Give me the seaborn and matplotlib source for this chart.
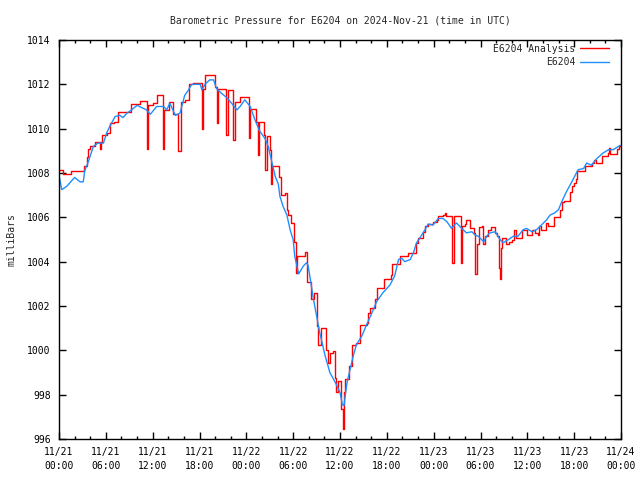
import pandas as pd
import matplotlib
matplotlib.use('Agg')
import matplotlib.pyplot as plt
import matplotlib.dates as mdates
import seaborn as sns

start = pd.Timestamp('2024-11-21 00:00')
station = 'E6204'

# Observacoes da estacao (horas desde 11/21 00:00 UTC, mb)
obs_hours = [0.0, 0.35, 1.0, 2.0, 2.7, 3.1, 3.3, 3.75, 4.4, 5.0, 5.7, 6.1, 6.5, 7.2, 7.8, 8.2,
             8.7, 9.3, 10.0, 10.6, 11.2, 11.7, 12.5, 13.4, 13.8, 14.2, 14.9, 15.5, 16.1, 16.6,
             17.0, 17.6, 18.1, 18.3, 18.7, 19.3, 19.8, 20.2, 20.8, 21.5, 22.1, 22.8, 23.2, 23.8,
             24.5, 25.1, 25.7, 26.4, 26.8, 27.2, 27.7, 28.1, 28.3, 28.7, 29.2, 29.6, 30.0, 30.2,
             30.7, 31.3, 31.7, 31.9, 32.2, 32.6, 33.0, 33.4, 34.1, 34.7, 35.4, 36.0, 36.3, 36.5,
             36.9, 37.3, 37.7, 38.1, 38.8, 39.4, 40.1, 40.7, 41.5, 42.4, 43.0, 43.5, 43.9, 44.3,
             45.0, 45.4, 45.8, 46.2, 46.9, 47.3, 47.9, 48.6, 49.2, 49.7, 50.3, 50.9, 51.6, 52.2,
             52.9, 53.3, 53.7, 54.4, 54.8, 55.2, 55.9, 56.5, 56.9, 57.6, 58.2, 58.8, 59.5, 59.9,
             60.6, 61.2, 61.8, 62.5, 62.9, 63.5, 64.0, 64.4, 65.0, 65.7, 66.5, 67.2, 67.6, 68.2,
             68.9, 69.7, 70.4, 71.0, 71.9]
obs_mb = [1007.9, 1007.25, 1007.4, 1007.8, 1007.6, 1007.6, 1008.1, 1008.5, 1009.2, 1009.35,
          1009.35, 1009.8, 1010.1, 1010.55, 1010.6, 1010.5, 1010.7, 1010.85, 1011.05, 1010.95,
          1010.85, 1010.65, 1011.0, 1011.0, 1010.85, 1011.15, 1010.6, 1010.7, 1011.5, 1011.75,
          1012.0, 1012.0, 1012.0, 1011.75, 1012.0, 1012.2, 1012.2, 1011.8, 1011.6, 1011.4,
          1011.15, 1010.85, 1011.0, 1011.3, 1011.0, 1010.4, 1009.9, 1009.55, 1009.2, 1008.6,
          1007.85, 1007.5, 1006.95, 1006.5, 1006.1, 1005.45, 1005.0, 1004.25, 1003.45, 1003.8,
          1003.95, 1003.85, 1003.2, 1002.3, 1001.55, 1000.8, 999.75, 999.0, 998.55, 998.1,
          997.55, 997.5, 998.55, 999.15, 999.75, 1000.25, 1000.65, 1001.15, 1001.7, 1002.2,
          1002.6, 1002.95, 1003.35, 1004.1, 1004.15, 1004.0, 1004.1, 1004.4, 1004.85, 1005.05,
          1005.45, 1005.7, 1005.65, 1005.95, 1005.95, 1005.8, 1005.5, 1005.75, 1005.5, 1005.3,
          1005.35, 1005.2, 1005.15, 1004.9, 1005.15, 1005.3, 1005.35, 1005.0, 1004.85, 1005.0,
          1005.15, 1005.15, 1005.45, 1005.5, 1005.35, 1005.45, 1005.65, 1005.9, 1006.1, 1006.2,
          1006.35, 1006.7, 1007.15, 1007.6, 1008.15, 1008.2, 1008.45, 1008.35, 1008.65, 1008.9,
          1009.05, 1009.05, 1009.25]

# Analise (valores em degrau, com os picos para baixo)
ana_hours = [0.0, 0.5, 1.6, 3.2, 3.6, 3.75, 4.0, 4.6, 5.2, 5.35, 5.5, 6.1, 6.5, 7.0, 7.6, 9.2,
             10.4, 11.3, 11.45, 12.1, 12.5, 13.3, 13.45, 14.1, 14.6, 15.3, 15.6, 16.1, 16.6,
             17.2, 18.3, 18.45, 18.7, 20.0, 20.2, 20.4, 21.4, 21.6, 22.3, 22.5, 23.2, 24.3,
             24.5, 25.2, 25.5, 25.65, 26.2, 26.45, 26.6, 27.0, 27.15, 27.3, 28.2, 28.4, 28.95,
             29.15, 29.4, 29.75, 30.1, 30.3, 30.5, 31.5, 31.8, 32.3, 32.7, 33.0, 33.15, 33.6,
             34.2, 34.4, 34.7, 35.1, 35.35, 35.55, 35.75, 36.15, 36.35, 36.5, 36.65, 37.2, 37.6,
             38.1, 38.5, 39.4, 39.6, 39.8, 40.5, 40.8, 41.6, 42.5, 42.7, 43.7, 44.7, 45.7, 46.0,
             46.6, 46.9, 47.3, 47.9, 48.4, 48.6, 49.2, 49.4, 49.55, 50.35, 50.55, 51.5, 51.65,
             52.0, 52.2, 52.6, 53.2, 53.3, 53.5, 53.8, 54.2, 54.35, 54.55, 55.0, 55.3, 55.8,
             56.1, 56.35, 56.5, 56.65, 56.8, 57.3, 57.6, 58.0, 58.35, 58.55, 59.35, 60.0, 60.6,
             61.0, 61.4, 61.5, 61.7, 62.4, 62.6, 63.4, 64.2, 64.4, 64.7, 65.5, 65.7, 66.0, 66.2,
             66.4, 67.4, 68.3, 68.6, 68.8, 69.6, 70.3, 70.45, 70.55, 71.5, 71.8, 72.0]
ana_mb = [1008.15, 1007.95, 1008.1, 1008.3, 1008.7, 1009.1, 1009.2, 1009.4, 1009.1, 1009.4,
          1009.7, 1009.8, 1010.25, 1010.3, 1010.75, 1011.1, 1011.25, 1009.1, 1011.05, 1011.15,
          1011.5, 1009.1, 1010.85, 1011.2, 1010.65, 1009.0, 1011.2, 1011.3, 1012.0, 1012.05,
          1010.0, 1011.8, 1012.4, 1011.9, 1010.25, 1011.8, 1009.7, 1011.75, 1009.5, 1011.2,
          1011.45, 1009.6, 1010.9, 1010.3, 1008.8, 1010.3, 1009.7, 1008.15, 1009.65, 1009.05,
          1007.5, 1008.3, 1007.8, 1007.0, 1007.1, 1006.35, 1006.1, 1005.75, 1004.9, 1003.5,
          1004.25, 1004.45, 1003.1, 1002.3, 1002.6, 1001.1, 1000.25, 1001.0, 1000.0, 999.45,
          999.9, 999.95, 998.75, 998.1, 998.6, 997.35, 996.45, 998.1, 998.7, 999.3, 1000.25,
          1000.35, 1001.15, 1001.25, 1001.7, 1001.9, 1002.3, 1002.8, 1003.2, 1003.4, 1003.9,
          1004.25, 1004.4, 1004.85, 1005.05, 1005.35, 1005.6, 1005.7, 1005.8, 1005.9, 1006.05,
          1006.1, 1006.2, 1006.05, 1003.95, 1006.05, 1003.95, 1005.6, 1005.7, 1005.9, 1005.5,
          1005.3, 1003.45, 1004.8, 1005.55, 1005.6, 1004.8, 1005.15, 1005.45, 1005.55, 1005.3,
          1005.15, 1003.7, 1003.2, 1004.6, 1005.05, 1004.8, 1004.9, 1005.0, 1005.45, 1005.05,
          1005.45, 1005.2, 1005.45, 1005.3, 1005.2, 1005.6, 1005.45, 1005.75, 1005.6, 1006.0,
          1006.35, 1006.7, 1006.75, 1007.15, 1007.4, 1007.55, 1007.75, 1008.1, 1008.3, 1008.45,
          1008.6, 1008.45, 1008.75, 1008.9, 1009.15, 1008.85, 1009.1, 1009.2, 1009.2]

obs = pd.DataFrame({'time': start + pd.to_timedelta(obs_hours, unit='h'), 'mb': obs_mb})
ana = pd.DataFrame({'time': start + pd.to_timedelta(ana_hours, unit='h'), 'mb': ana_mb})

sns.set_style('ticks')
plt.rcParams['font.family'] = ['DejaVu Sans Mono']
plt.rcParams['font.size'] = 7

fig = plt.figure(figsize=(6.4, 4.8), dpi=100)
ax = fig.add_axes([59 / 640, 41 / 480, 562 / 640, 399 / 480])

sns.lineplot(data=ana, x='time', y='mb', color='#ff0000', lw=1.0, drawstyle='steps-post',
             estimator=None, label=f'{station} Analysis', ax=ax)
sns.lineplot(data=obs, x='time', y='mb', color='#1e8fff', lw=1.0,
             estimator=None, label=station, ax=ax)

ax.set_xlim(start, start + pd.Timedelta(hours=72))
ax.set_ylim(996, 1014)
ax.set_yticks(range(996, 1015, 2))
ax.xaxis.set_major_locator(mdates.HourLocator(byhour=[0, 6, 12, 18]))
ax.xaxis.set_minor_locator(mdates.HourLocator(interval=2))
ax.xaxis.set_major_formatter(mdates.DateFormatter('%m/%d\n%H:%M'))

ax.tick_params(which='both', direction='in', top=True, right=True, colors='black', width=1)
ax.tick_params(which='major', length=5, pad=6, labelsize=7)
ax.tick_params(which='minor', length=2.5)
for s in ax.spines.values():
    s.set_color('black')
    s.set_linewidth(1)

ax.set_xlabel('')
ax.set_ylabel('milliBars', fontsize=7, labelpad=8)
ax.set_title(f'Barometric Pressure for {station} on 2024-Nov-21 (time in UTC)', fontsize=7, pad=12)

ax.legend(loc='upper right', bbox_to_anchor=(0.993, 1.01), frameon=False, markerfirst=False,
          fontsize=7, handlelength=3.0, handletextpad=0.5, labelspacing=0.35, borderaxespad=0.4)

fig.canvas.draw()
for lbl in ax.get_xticklabels():
    lbl.set_linespacing(1.5)

fig.savefig('out.png', dpi=100)
